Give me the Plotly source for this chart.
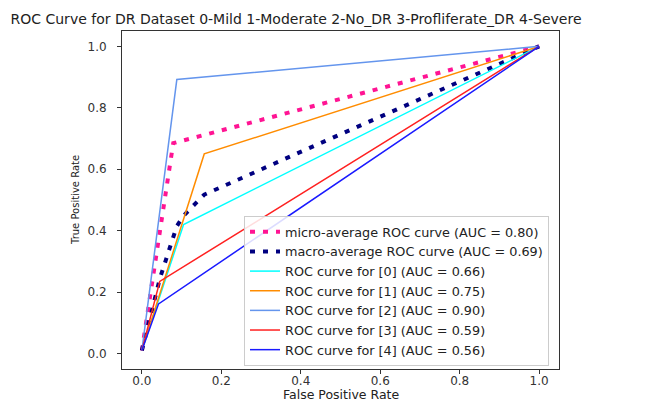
import plotly.graph_objects as go

# Operating points of each ROC curve (false positive rate, true positive rate)
fpr_micro = [0.0, 0.079, 1.0]
tpr_micro = [0.01, 0.685, 1.0]

fpr_macro = [0.0, 0.045, 0.088, 0.105, 0.157, 1.0]
tpr_macro = [0.01, 0.243, 0.415, 0.449, 0.5175, 1.0]

fpr_class = [
    [0.0, 0.105, 1.0],
    [0.0, 0.157, 1.0],
    [0.0, 0.088, 1.0],
    [0.0, 0.045, 1.0],
    [0.0, 0.042, 1.0],
]
tpr_class = [
    [0.01, 0.42, 1.0],
    [0.01, 0.65, 1.0],
    [0.01, 0.892, 1.0],
    [0.01, 0.235, 1.0],
    [0.01, 0.162, 1.0],
]

auc_micro = 0.80
auc_macro = 0.69
auc_class = [0.66, 0.75, 0.90, 0.59, 0.56]
class_ids = [0, 1, 2, 3, 4]
class_colors = ["#00FFFF", "#FF8C00", "#6495ED", "#FF2020", "#1A1AFF"]

tick_vals = [0.0, 0.2, 0.4, 0.6, 0.8, 1.0]

FONT = "DejaVu Sans"
TEXT = "#222"

fig = go.Figure()

fig.add_trace(go.Scatter(
    x=fpr_micro, y=tpr_micro, mode="lines",
    name=f"micro-average ROC curve (AUC = {auc_micro:.2f})",
    line=dict(color="#FF1493", width=4, dash="5px,8px"),
))
fig.add_trace(go.Scatter(
    x=fpr_macro, y=tpr_macro, mode="lines",
    name=f"macro-average ROC curve (AUC = {auc_macro:.2f})",
    line=dict(color="#000080", width=4, dash="5px,8px"),
))
for cid, fx, ty, auc, col in zip(class_ids, fpr_class, tpr_class, auc_class, class_colors):
    fig.add_trace(go.Scatter(
        x=fx, y=ty, mode="lines",
        name=f"ROC curve for [{cid}] (AUC = {auc:.2f})",
        line=dict(color=col, width=1.5),
    ))

axis_common = dict(
    range=[-0.05, 1.05],
    tickvals=tick_vals,
    tickformat=".1f",
    ticks="outside",
    ticklen=4,
    tickwidth=1,
    tickcolor="#333",
    showgrid=False,
    zeroline=False,
    showline=True,
    linecolor="#333",
    linewidth=1,
    mirror=True,
    automargin=False,
    tickfont=dict(family=FONT, size=12, color="#333"),
)

fig.update_layout(
    width=668, height=401,
    margin=dict(l=122, r=109, t=31, b=32),
    paper_bgcolor="white",
    plot_bgcolor="white",
    font=dict(family=FONT, color=TEXT),
    title=dict(
        text="ROC Curve for DR Dataset 0-Mild 1-Moderate 2-No_DR 3-Profliferate_DR 4-Severe",
        x=296 / 668, xref="container", xanchor="center",
        y=1 - 19 / 401, yref="container", yanchor="middle",
        font=dict(family=FONT, size=14, color=TEXT),
    ),
    xaxis=dict(axis_common, ticklabelstandoff=-3),
    yaxis=dict(axis_common, ticklabelstandoff=8),
    legend=dict(
        x=(549 - 122) / 437, y=3 / 338, xanchor="right", yanchor="bottom",
        bgcolor="rgba(255,255,255,0.85)",
        bordercolor="#ccc", borderwidth=1,
        font=dict(family=FONT, size=12.8, color=TEXT),
        tracegroupgap=0,
    ),
    annotations=[
        dict(text="False Positive Rate", xref="paper", yref="paper",
             x=0.5, y=0, xanchor="center", yanchor="middle", yshift=-25,
             showarrow=False, font=dict(family=FONT, size=12.5, color=TEXT)),
        dict(text="True Positive Rate", xref="paper", yref="paper",
             x=0, y=0.5, xanchor="center", yanchor="middle", xshift=-47,
             textangle=-90, showarrow=False,
             font=dict(family=FONT, size=10, color=TEXT)),
    ],
)

fig.write_html("out.html")
